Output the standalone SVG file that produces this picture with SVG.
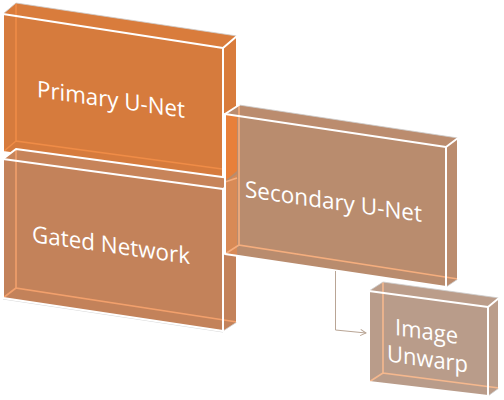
<svg xmlns="http://www.w3.org/2000/svg" width="504" height="400" viewBox="0 0 504 400">
<defs>
<style>
.w{fill:none;stroke:#fff;stroke-width:2;stroke-linejoin:round;stroke-linecap:round}
.g{fill:none;stroke:#cdcdcd;stroke-width:0.8}
.h{fill:none;stroke-width:1.6}
.lbl{font-family:'Open Sans','DejaVu Sans',sans-serif;font-size:23px;fill:#fff;text-anchor:middle}
.conn{fill:none;stroke:#b9a595;stroke-width:1}
</style>
<marker id="arr" viewBox="0 0 10 10" refX="9" refY="5" markerWidth="8" markerHeight="8" orient="auto" markerUnits="userSpaceOnUse">
<polyline points="2,1 9,5 2,9" fill="none" stroke="#b9a595" stroke-width="1.2"/>
</marker>
</defs>
<rect width="504" height="400" fill="#fff"/>

<g id="primary">
<polygon points="3,14 16,3 237,36 223,48" fill="#d97c3c"/>
<polygon points="223,48 237,36 237,171 223,183" fill="#d97c3c"/>
<polygon points="3,14 223,48 223,183 3,152" fill="#d67b3d"/>
<path class="h" stroke="#ef8c47" d="M16,3 V141 L237,171 M3,152 L16,141"/>
<path class="g" d="M3,14 L16,3 L237,36 M223,183 L237,171"/>
<polygon class="w" points="3,14 223,48 223,183 3,152"/>
<path class="w" d="M223,48 L237,36 L237,171"/>
<text class="lbl" transform="translate(111,107.5) skewY(8)" textLength="148" lengthAdjust="spacingAndGlyphs">Primary U-Net</text>
</g>

<g id="gated">
<polygon points="3,159 16,149 237,179 223,189" fill="#c7845a"/>
<polygon points="223,189 237,179 237,322 223,331" fill="#c3825a"/>
<polygon points="3,159 223,189 223,331 3,298" fill="#c3825a"/>
<path class="h" stroke="#f2a06c" d="M16,149 V288 L237,322 M3,298 L16,288"/>
<path class="g" d="M223,331 L237,322 M3,299 L223,332"/>
<polygon class="w" points="3,159 223,189 223,331 3,298"/>
<path class="w" d="M3,159 L16,149 L237,179 L223,189 M237,179 V322"/>
<text class="lbl" transform="translate(111,253) skewY(8)" textLength="158" lengthAdjust="spacingAndGlyphs">Gated Network</text>
</g>

<g id="secondary">
<polygon points="225,114 239,105 458,138 446,147" fill="#bb8c6e"/>
<polygon points="446,147 458,138 458,279 446,287" fill="#bb8c6e"/>
<polygon points="225,114 446,147 446,287 225,254" fill="#b98c6e"/>
<polygon points="225,114 237,116 237,171 225,181" fill="#e8803a"/>
<polygon points="225,183 237,174 237,256 225,254" fill="#d88a56"/>
<path class="h" stroke="#f5ae7e" d="M239,105 V245 L458,279 M225,254 L239,245 M225,182 L237,178"/>
<path class="g" d="M239,105 L458,138 M446,287 L458,279"/>
<polygon class="w" points="225,114 446,147 446,287 225,254"/>
<path class="w" d="M225,114 L239,105 M446,147 L458,138 L458,279"/>
<text class="lbl" transform="translate(333.5,209.5) skewY(8)" textLength="177" lengthAdjust="spacingAndGlyphs">Secondary U-Net</text>
</g>

<g id="unwarp">
<polygon points="369,291 383,282 499,298 488,307" fill="#bb9d8a"/>
<polygon points="488,307 499,298 499,388 488,396" fill="#bb9d8a"/>
<polygon points="369,291 488,307 488,396 369,382" fill="#b99c8a"/>
<path class="h" stroke="#f5b88e" d="M383,282 V373 L499,388 M369,382 L383,373"/>
<path class="g" d="M369,291 L383,282 L499,298 M488,396 L499,388"/>
<polygon class="w" points="369,291 488,307 488,396 369,382"/>
<path class="w" d="M488,307 L499,298 L499,388"/>
<text class="lbl" transform="translate(426.5,339.5) skewY(8)" textLength="63" lengthAdjust="spacingAndGlyphs">Image</text>
<text class="lbl" transform="translate(427.5,367) skewY(8)" textLength="81" lengthAdjust="spacingAndGlyphs">Unwarp</text>
</g>

<g id="connectors">
<path class="conn" d="M335.5,271 V330 L366,333" marker-end="url(#arr)"/>
</g>
</svg>
